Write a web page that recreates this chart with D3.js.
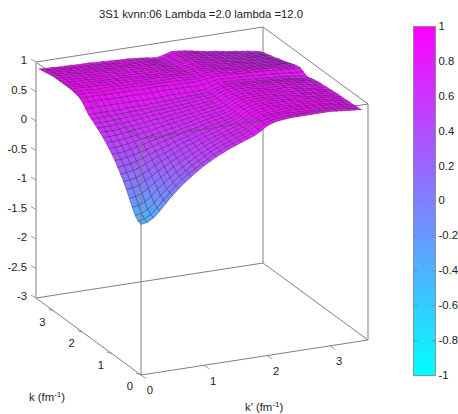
<!DOCTYPE html>
<html>
<head>
<meta charset="utf-8">
<script src="https://cdnjs.cloudflare.com/ajax/libs/d3/7.8.5/d3.min.js"></script>
<style>
html,body{margin:0;padding:0;background:#fff;}
text{font-family:"Liberation Sans",Arial,sans-serif;font-size:11.3px;fill:#222;}
</style>
</head>
<body>
<svg id="chart" width="458" height="414"></svg>
<script>
var titleText="3S1 kvnn:06 Lambda =2.0 lambda =12.0";
var momentumTicks=[0,1,2,3];
var zTicks=[1,0.5,0,-0.5,-1,-1.5,-2,-2.5,-3];
var colorTicks=[1,0.8,0.6,0.4,0.2,0,-0.2,-0.4,-0.6,-0.8,-1];
var colorTickLabels=["1","0.8","0.6","0.4","0.2","0","-0.2","-0.4","-0.6","-0.8","-1"];
var zTickLabels=["1","0.5","0","-0.5","-1","-1.5","-2","-2.5","-3"];

// mesh nodes, same for k and k'
var meshK=[0,0.1,0.2,0.3,0.4,0.5,0.6,0.7,0.8,0.9,1,1.1,1.2,1.3,1.4,1.5,1.6,1.7,1.8,1.9,2,2.1,2.2,2.3,2.4,2.5,2.6,2.7,2.8,2.9,3,3.1,3.2,3.3,3.4,3.5];

// surface is symmetric in k,k' so only the lower triangle is kept
var surfaceRows=[
[-.45],
[-.43,-.41],
[-.37,-.35,-.30],
[-.27,-.25,-.21,-.13],
[-.15,-.14,-.10,-.03,.05],
[-.04,-.03,0,.06,.12,.19],
[.06,.07,.09,.14,.19,.25,.30],
[.15,.16,.18,.21,.26,.31,.35,.39],
[.23,.24,.25,.28,.32,.36,.40,.43,.47],
[.31,.31,.33,.35,.38,.41,.45,.48,.51,.54],
[.38,.38,.39,.41,.44,.46,.49,.52,.54,.57,.59],
[.44,.44,.45,.47,.49,.51,.53,.55,.57,.60,.62,.64],
[.50,.50,.51,.52,.54,.55,.57,.59,.61,.63,.65,.66,.68],
[.55,.55,.56,.57,.58,.60,.61,.62,.64,.65,.67,.68,.70,.72],
[.60,.60,.60,.61,.62,.63,.64,.65,.67,.68,.69,.71,.72,.73,.75],
[.64,.64,.64,.65,.66,.66,.67,.69,.70,.71,.72,.73,.74,.75,.76,.77],
[.68,.68,.68,.69,.69,.70,.71,.71,.72,.73,.74,.74,.75,.76,.77,.78,.79],
[.72,.72,.72,.72,.73,.73,.74,.74,.74,.75,.76,.76,.77,.78,.79,.79,.80,.81],
[.76,.76,.76,.76,.76,.76,.77,.77,.77,.77,.78,.78,.79,.79,.80,.80,.81,.81,.81],
[.82,.82,.82,.82,.82,.82,.82,.82,.82,.82,.82,.82,.82,.83,.83,.83,.83,.83,.83,.84],
[.89,.89,.89,.89,.88,.88,.88,.88,.88,.88,.88,.88,.88,.88,.88,.88,.88,.88,.87,.88,.90],
[.93,.93,.93,.93,.92,.92,.92,.92,.92,.92,.92,.92,.92,.92,.91,.91,.91,.91,.90,.91,.92,.94],
[.95,.95,.95,.94,.94,.94,.94,.94,.94,.94,.93,.93,.93,.93,.93,.93,.92,.92,.91,.91,.93,.94,.94],
[.96,.96,.96,.95,.95,.95,.95,.95,.94,.94,.94,.94,.94,.93,.93,.93,.93,.92,.91,.91,.92,.94,.94,.93],
[.97,.97,.97,.96,.96,.96,.95,.95,.95,.95,.94,.94,.94,.94,.94,.93,.93,.92,.91,.91,.92,.94,.93,.93,.92],
[.97,.97,.96,.96,.96,.96,.95,.95,.95,.94,.94,.94,.94,.93,.93,.93,.92,.91,.90,.90,.91,.93,.92,.92,.91,.89],
[.97,.97,.96,.96,.96,.95,.95,.95,.94,.94,.94,.93,.93,.93,.92,.92,.92,.91,.89,.89,.91,.92,.92,.91,.90,.89,.88],
[.97,.97,.96,.96,.96,.95,.95,.95,.94,.94,.93,.93,.93,.92,.92,.92,.91,.90,.89,.88,.90,.92,.91,.90,.89,.88,.87,.86],
[.97,.97,.96,.96,.95,.95,.95,.94,.94,.94,.93,.93,.92,.92,.92,.91,.91,.89,.88,.88,.89,.91,.91,.90,.88,.87,.86,.85,.83],
[.97,.97,.96,.96,.95,.95,.94,.94,.94,.93,.93,.92,.92,.92,.91,.91,.90,.89,.87,.87,.89,.91,.90,.89,.88,.86,.85,.83,.82,.81],
[.97,.97,.96,.96,.95,.95,.94,.94,.93,.93,.92,.92,.92,.91,.91,.90,.90,.88,.86,.86,.88,.90,.90,.88,.87,.85,.84,.82,.81,.80,.78],
[.96,.96,.95,.95,.94,.94,.93,.93,.92,.92,.91,.91,.91,.90,.90,.89,.88,.87,.85,.85,.87,.89,.89,.88,.86,.84,.83,.81,.80,.78,.77,.76],
[.95,.95,.94,.94,.93,.93,.92,.92,.91,.91,.90,.90,.89,.89,.89,.88,.87,.86,.84,.84,.86,.89,.88,.87,.85,.83,.82,.80,.79,.77,.76,.74,.73],
[.94,.94,.93,.93,.92,.92,.91,.91,.90,.90,.89,.89,.88,.88,.87,.87,.86,.84,.83,.83,.85,.88,.87,.86,.85,.82,.81,.79,.78,.76,.75,.73,.71,.70],
[.93,.92,.92,.91,.91,.90,.90,.89,.89,.88,.88,.87,.87,.87,.86,.86,.85,.83,.81,.81,.84,.87,.87,.85,.84,.81,.80,.78,.76,.75,.73,.72,.70,.68,.66],
[.92,.91,.91,.90,.90,.90,.89,.89,.89,.88,.88,.87,.87,.86,.86,.85,.84,.83,.81,.81,.84,.87,.86,.85,.83,.81,.79,.77,.76,.74,.72,.71,.69,.68,.66,.64]
];

function surfaceAt(i,j){
	return i>=j ? surfaceRows[i][j] : surfaceRows[j][i];
}

var svg=d3.select("#chart");

// the view: one scale per axis, each gives a pixel offset on screen
var originX=141, originY=375;
var kpToX=d3.scaleLinear().domain([0,3.6]).range([0,227]);
var kpToY=d3.scaleLinear().domain([0,3.6]).range([0,-35]);
var kToX=d3.scaleLinear().domain([0,3.6]).range([0,-105]);
var kToY=d3.scaleLinear().domain([0,3.6]).range([0,-77]);
var zToY=d3.scaleLinear().domain([-3,1]).range([0,-236]);
var color=d3.scaleLinear().domain([-1,1]).range(["#00ffff","#ff00ff"]);

function project(k,kp,z){
	return [originX+kpToX(kp)+kToX(k), originY+kpToY(kp)+kToY(k)+zToY(z)];
}

function boxLine(a,b,stroke,width){
	var p=project(a[0],a[1],a[2]), q=project(b[0],b[1],b[2]);
	svg.append("line")
		.attr("x1",p[0]).attr("y1",p[1])
		.attr("x2",q[0]).attr("y2",q[1])
		.attr("stroke",stroke||"#808080")
		.attr("stroke-width",width||1);
}

var top_z=1, low_z=-3, kMax=3.6;

// parts of the box behind the surface
boxLine([kMax,0,low_z],[kMax,kMax,low_z]);
boxLine([kMax,kMax,low_z],[0,kMax,low_z]);
boxLine([kMax,kMax,low_z],[kMax,kMax,top_z]);
boxLine([kMax,0,top_z],[kMax,kMax,top_z]);
boxLine([kMax,kMax,top_z],[0,kMax,top_z]);

// surface, painted from the far corner to the near one
var surface=svg.append("g");
for(var i=meshK.length-2;i>=0;i--){
	for(var j=meshK.length-2;j>=0;j--){
		var z00=surfaceAt(i,j), z01=surfaceAt(i,j+1), z11=surfaceAt(i+1,j+1), z10=surfaceAt(i+1,j);
		var pts=[
			project(meshK[i],meshK[j],z00),
			project(meshK[i],meshK[j+1],z01),
			project(meshK[i+1],meshK[j+1],z11),
			project(meshK[i+1],meshK[j],z10)
		];
		surface.append("polygon")
			.attr("points",pts.map(function(d){return d[0].toFixed(2)+","+d[1].toFixed(2);}).join(" "))
			.attr("fill",color((z00+z01+z11+z10)/4))
			.attr("stroke","#3a1a4a")
			.attr("stroke-width",0.5)
			.attr("stroke-opacity",0.8);
	}
}

// parts of the box in front
boxLine([0,0,low_z],[kMax,0,low_z]);
boxLine([0,0,low_z],[0,kMax,low_z]);
boxLine([0,0,low_z],[0,0,top_z]);
boxLine([0,0,top_z],[kMax,0,top_z],"#6a4a78",0.8);
boxLine([0,0,top_z],[0,kMax,top_z],"#6a4a78",0.8);
boxLine([0,kMax,low_z],[0,kMax,top_z]);
boxLine([kMax,0,low_z],[kMax,0,top_z],"#bdbdbd",2);

function tickLine(x,y,dx,dy){
	svg.append("line")
		.attr("x1",x).attr("y1",y).attr("x2",x+dx).attr("y2",y+dy)
		.attr("stroke","#808080").attr("stroke-width",0.8);
}

// z ticks on the left post
zTicks.forEach(function(v,i){
	var p=project(kMax,0,v);
	tickLine(p[0],p[1],-5,-3);
	svg.append("text").attr("x",p[0]-9).attr("y",p[1]-0.5)
		.attr("text-anchor","end").attr("dominant-baseline","middle")
		.text(zTickLabels[i]);
});

// k' ticks along the right floor edge, k ticks along the left one
momentumTicks.forEach(function(v){
	var p=project(0,v,low_z);
	tickLine(p[0],p[1],5,3.5);
	svg.append("text").attr("x",p[0]+9).attr("y",p[1]+16.5)
		.attr("text-anchor","middle").attr("dominant-baseline","middle")
		.text(v);
	var q=project(v,0,low_z);
	tickLine(q[0],q[1],-5,-1.5);
	svg.append("text").attr("x",q[0]-11).attr("y",q[1]+12)
		.attr("text-anchor","middle").attr("dominant-baseline","middle")
		.text(v);
});

function fmLabel(x,y,name){
	var t=svg.append("text").attr("x",x).attr("y",y);
	t.append("tspan").text(name+" (fm");
	t.append("tspan").attr("dy",-4).style("font-size","8px").text("-1");
	t.append("tspan").attr("dy",4).text(")");
}
fmLabel(29,401,"k");
fmLabel(245,411,"k'");

svg.append("text").attr("x",201).attr("y",18).attr("text-anchor","middle").text(titleText);

// colour box
var barX=413.5, barW=22;
var barY=d3.scaleLinear().domain([-1,1]).range([375.5,26.5]);
var grad=svg.append("defs").append("linearGradient").attr("id","cbGrad")
	.attr("x1",0).attr("y1",1).attr("x2",0).attr("y2",0);
grad.append("stop").attr("offset","0%").attr("stop-color",color(-1));
grad.append("stop").attr("offset","100%").attr("stop-color",color(1));
svg.append("rect")
	.attr("x",barX).attr("y",barY(1))
	.attr("width",barW).attr("height",barY(-1)-barY(1))
	.attr("fill","url(#cbGrad)")
	.attr("stroke","#808080").attr("stroke-width",0.8);
colorTicks.forEach(function(v,i){
	var y=barY(v);
	if(v!=1 && v!=-1){
		tickLine(barX,y,4,0);
		tickLine(barX+barW,y,-4,0);
	}
	svg.append("text").attr("x",barX+barW+3).attr("y",y+0.5)
		.attr("dominant-baseline","middle").text(colorTickLabels[i]);
});
</script>
</body>
</html>
